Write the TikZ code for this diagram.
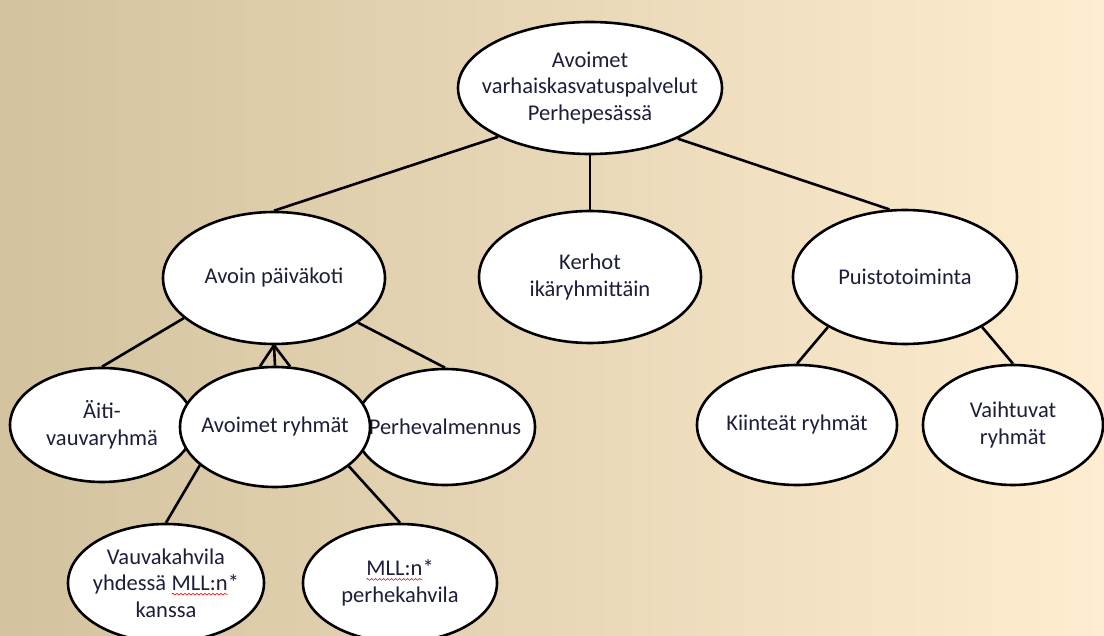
\documentclass[tikz,border=0pt]{standalone}
\usepackage{fontspec}
\setmainfont{Carlito}
\usepackage{xcolor}
\usetikzlibrary{shapes.geometric, decorations.pathmorphing}

\definecolor{bgLeft}{RGB}{210,194,158}
\definecolor{bgMid}{RGB}{238,227,204}
\definecolor{bgRight}{RGB}{254,237,208}
\definecolor{inkText}{RGB}{28,30,58}

% red wavy underline (spell check mark)
\newcommand{\spellwave}[1]{\tikz[baseline=(sw.base)]{%
    \node[rectangle, draw=none, fill=none, inner sep=0pt, outer sep=0pt, minimum size=0pt, anchor=base] (sw) {#1};%
    \draw[red, line width=0.6pt, decorate, decoration={snake, amplitude=0.9pt, segment length=4pt}]
        ([yshift=-3.5pt]sw.base west) -- ([yshift=-3.5pt]sw.base east);}}

\begin{document}
\begin{tikzpicture}[
        x=1pt, y=-1pt,
        % Define styles for consistency
        bubble/.style={
            ellipse,
            draw=black,
            line width=2.6pt,
            fill=white,
            inner sep=-30pt,
            align=center,
            text=inkText,
            font=\fontsize{22.5}{26.5}\selectfont
        },
        connector/.style={
            draw,
            line width=2.6pt
        }
    ]

    % Background
    \shade[left color=bgLeft, middle color=bgMid, right color=bgRight] (0,0) rectangle (1104,636);
    \useasboundingbox (0,0) rectangle (1104,636);

    % --- TOP LEVEL ---
    \node[bubble, minimum width=264pt, minimum height=132pt] (top) at (590,88) {Avoimet\\varhaiskasvatuspalvelut\\Perhepesässä};

    % --- SECOND LEVEL ---
    \node[bubble, minimum width=222pt, minimum height=132pt] (avoin) at (274,278) {Avoin päiväkoti};
    \node[bubble, minimum width=222pt, minimum height=132pt] (kerhot) at (590,277) {Kerhot\\ikäryhmittäin};
    \node[bubble, minimum width=224pt, minimum height=134pt] (puisto) at (905,277) {Puistotoiminta};

    % --- THIRD LEVEL ---
    \node[bubble, minimum width=184pt, minimum height=114pt] (aiti) at (102,425) {Äiti-\\vauvaryhmä};
    \node[bubble, minimum width=180pt, minimum height=116pt] (perhe) at (445,427) {Perhevalmennus};
    \node[bubble, minimum width=190pt, minimum height=120pt] (avoimet) at (275,427) {Avoimet ryhmät};
    \node[bubble, minimum width=200pt, minimum height=120pt] (kiintea) at (797,425) {Kiinteät ryhmät};
    \node[bubble, minimum width=180pt, minimum height=120pt] (vaihtuva) at (1013,425) {Vaihtuvat\\ryhmät};

    % --- FOURTH LEVEL ---
    \node[bubble, minimum width=196pt, minimum height=118pt] (vauva) at (166,583) {Vauvakahvila\\yhdessä \spellwave{MLL:n}*\\kanssa};
    \node[bubble, minimum width=194pt, minimum height=118pt] (mll) at (400,583) {\spellwave{MLL:n}*\\perhekahvila};

    % Connections from the top
    \draw[connector] (top.208) -- (avoin.north);
    \draw[connector] (top.south) -- (kerhot.north);
    \draw[connector] (top.330) -- (puisto.103);

    % Avoin päiväkoti branches
    \draw[connector] (avoin.204) -- (aiti.north);
    \draw[connector] (avoin.332) -- (perhe.north);
    \draw[connector] (avoin.south) -- (avoimet.104);
    \draw[connector] (avoin.south) -- (avoimet.north);
    \draw[connector] (avoin.south) -- (avoimet.76);

    % Avoimet ryhmät branches
    \draw[connector] (avoimet.207) -- (vauva.north);
    \draw[connector] (avoimet.332) -- (mll.north);

    % Puistotoiminta branches
    \draw[connector] (puisto.213) -- (kiintea.north);
    \draw[connector] (puisto.327) -- (vaihtuva.north);

\end{tikzpicture}
\end{document}
